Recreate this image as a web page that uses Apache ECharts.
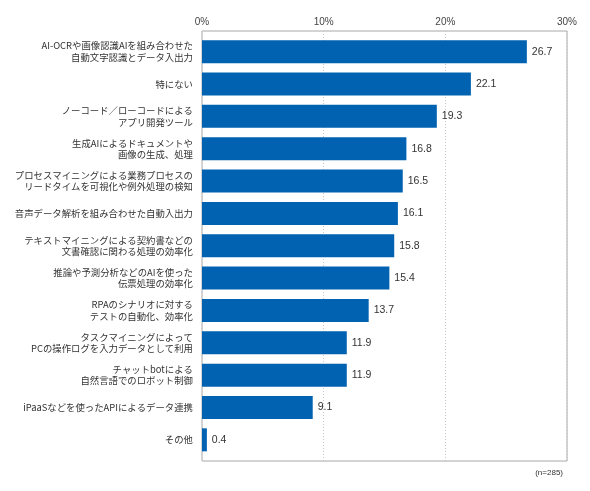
<!DOCTYPE html>
<html>
<head>
<meta charset="utf-8">
<script src="https://cdn.jsdelivr.net/npm/echarts@6/dist/echarts.min.js"></script>
<style>
  html, body { margin: 0; padding: 0; background: #fff; }
  #chart { width: 590px; height: 491px; }
</style>
</head>
<body>
<div id="chart"></div>
<script>
// 項目（上から順）
var categories = [
    'AI-OCRや画像認識AIを組み合わせた\n自動文字認識とデータ入出力',
    '特にない',
    'ノーコード／ローコードによる\nアプリ開発ツール',
    '生成AIによるドキュメントや\n画像の生成、処理',
    'プロセスマイニングによる業務プロセスの\nリードタイムを可視化や例外処理の検知',
    '音声データ解析を組み合わせた自動入出力',
    'テキストマイニングによる契約書などの\n文書確認に関わる処理の効率化',
    '推論や予測分析などのAIを使った\n伝票処理の効率化',
    'RPAのシナリオに対する\nテストの自動化、効率化',
    'タスクマイニングによって\nPCの操作ログを入力データとして利用',
    'チャットbotによる\n自然言語でのロボット制御',
    'iPaaSなどを使ったAPIによるデータ連携',
    'その他'
];
// 割合（%）
var values = [26.7, 22.1, 19.3, 16.8, 16.5, 16.1, 15.8, 15.4, 13.7, 11.9, 11.9, 9.1, 0.4];
var axisMin = 0;
var axisMax = 30;
var axisStep = 10;
var sampleNote = '(n=285)';

var chart = echarts.init(document.getElementById('chart'));

var option = {
    animation: false,
    backgroundColor: '#fff',
    title: {
        text: sampleNote,
        right: 22,
        top: 464,
        textStyle: {
            fontSize: 8,
            fontWeight: 'normal',
            color: '#333',
            fontFamily: 'Liberation Sans'
        }
    },
    grid: [
        // 棒グラフ用
        { left: 202, right: 23, top: 35.5, bottom: 35, containLabel: false },
        // 枠と目盛り用
        { left: 202, right: 23, top: 31, bottom: 30, show: true, borderColor: '#a8a8a8', borderWidth: 1 }
    ],
    xAxis: [
        {
            gridIndex: 0,
            type: 'value',
            min: axisMin,
            max: axisMax,
            interval: axisStep,
            show: false
        },
        {
            gridIndex: 1,
            type: 'value',
            position: 'top',
            min: axisMin,
            max: axisMax,
            interval: axisStep,
            axisLine: { show: false },
            axisTick: { show: false },
            axisLabel: {
                formatter: '{value}%',
                margin: 4,
                fontSize: 10,
                color: '#444',
                fontFamily: 'Liberation Sans'
            },
            splitLine: {
                show: true,
                lineStyle: { color: '#c8c8c8', type: [1, 2], width: 1 }
            }
        }
    ],
    yAxis: [
        {
            gridIndex: 0,
            type: 'category',
            inverse: true,
            data: categories,
            axisLine: { show: false },
            axisTick: { show: false },
            axisLabel: {
                margin: 9,
                fontSize: 9.4,
                lineHeight: 11.5,
                color: '#333',
                fontFamily: 'Noto Sans CJK JP'
            }
        },
        {
            gridIndex: 1,
            type: 'value',
            show: false
        }
    ],
    series: [{
        type: 'bar',
        xAxisIndex: 0,
        yAxisIndex: 0,
        data: values,
        barWidth: 23,
        itemStyle: { color: '#0062b1' },
        label: {
            show: true,
            position: 'right',
            distance: 5,
            fontSize: 10.5,
            color: '#333',
            fontFamily: 'Liberation Sans',
            formatter: function (p) { return p.value.toFixed(1); }
        }
    }]
};

chart.setOption(option);
</script>
</body>
</html>
